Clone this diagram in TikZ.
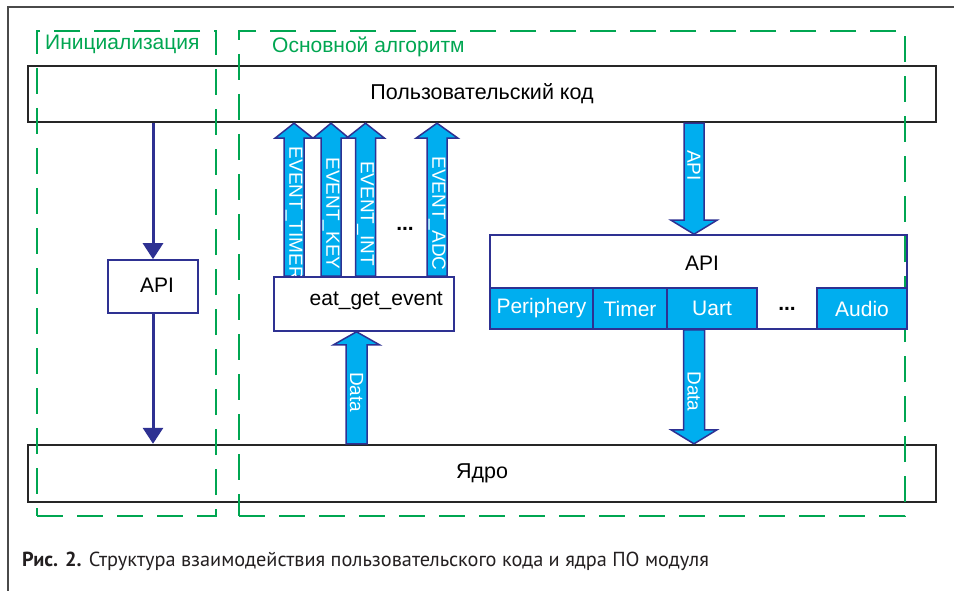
\documentclass[tikz,border=0pt]{standalone}
\usepackage{fontspec}
\setmainfont{Liberation Sans}
\newfontfamily\capfont{PT Sans}
\usetikzlibrary{calc,arrows.meta}

\definecolor{cyanfill}{HTML}{00AEEF}
\definecolor{navy}{HTML}{2E3192}
\definecolor{grn}{HTML}{00A651}
\definecolor{framegray}{HTML}{4A4A4A}
\definecolor{captxt}{HTML}{231F20}

\tikzset{
  framel/.style={draw=framegray, line width=1.3pt},
  boxk/.style={draw=black!85, line width=2.4pt, rectangle, inner sep=0pt,
    font=\fontsize{21.5}{24}\selectfont},
  boxb/.style={draw=navy, line width=1.6pt, rectangle, inner sep=0pt,
    font=\fontsize{21}{24}\selectfont},
  cellbox/.style={draw=navy, fill=cyanfill, line width=1.6pt, rectangle, inner sep=0pt,
    text=white, minimum height=41pt, font=\fontsize{21}{24}\selectfont},
  txt/.style={inner sep=0pt, font=\fontsize{21}{24}\selectfont},
  grp/.style={draw=grn, line width=2.2pt, dash pattern=on 26pt off 14pt, rectangle, inner sep=0pt},
  grplbl/.style={inner sep=0pt, text=grn, font=\fontsize{21}{24}\selectfont},
  thinarr/.style={draw=navy, line width=3pt, -{Triangle[width=20pt,length=16pt]}},
  blkarrow/.style={draw=navy, fill=cyanfill, line width=1.5pt, line join=miter},
  arrlbl/.style={inner sep=0pt, text=white, rotate=-90, font=\fontsize{19}{21}\selectfont},
}

% block arrow: #1 start, #2 tip, #3 shaft half width, #4 head half width,
% #5 head length, #6 label position, #7 label
\newcommand\blockarrow[7]{%
  \draw[blkarrow] let \p1=(#1), \p2=(#2), \n1={sign(\y2-\y1)} in
    (\x1-#3pt,\y1) -- (\x1-#3pt,\y2-\n1*#5pt) -- (\x1-#4pt,\y2-\n1*#5pt)
    -- (\x1,\y2) -- (\x1+#4pt,\y2-\n1*#5pt) -- (\x1+#3pt,\y2-\n1*#5pt)
    -- (\x1+#3pt,\y1) -- cycle;
  \path (#1) -- node[arrlbl, pos=#6] {#7} (#2);
}

\begin{document}
\begin{tikzpicture}[x=1pt, y=-1pt]
\useasboundingbox (0,0) rectangle (954,591);

% page frame
\draw[framel] (8,591) -- (8,7) -- (954,7);

% layers
\node[boxk, minimum width=908pt, minimum height=56pt] (user) at (482,94) {Пользовательский код};
\node[boxk, minimum width=908pt, minimum height=57pt] (core) at (482,473.5) {Ядро};

% columns of the block arrows
\coordinate (cT) at (294,0);
\coordinate (cK) at (331,0);
\coordinate (cI) at (365.5,0);
\coordinate (cA) at (437,0);
\coordinate (cApi) at (694,0);
\coordinate (cD) at (356.5,0);

% initialisation path
\node[boxb, minimum width=90pt, minimum height=53pt] (iapi) at (153,286.5) {};
\node[txt] (iapitxt) at (157,285) {API};
\draw[thinarr] (user.south -| iapi.north) -- (iapi.north);
\draw[thinarr] (iapi.south) -- (core.north -| iapi.south);

% event box and events
\node[boxb, minimum width=180pt, minimum height=54pt] (eat) at (364,304) {};
\blockarrow{eat.north -| cT}{user.south -| cT}{10}{19}{15}{0.41}{EVENT\_TIMER}
\blockarrow{eat.north -| cK}{user.south -| cK}{10}{18}{15}{0.41}{EVENT\_KEY}
\blockarrow{eat.north -| cI}{user.south -| cI}{10}{19}{15}{0.41}{EVENT\_INT}
\blockarrow{eat.north -| cA}{user.south -| cA}{10}{21}{15}{0.41}{EVENT\_ADC}
\node[boxb, fill=white, minimum width=180pt, minimum height=54pt] (eatb) at (364,304) {};
\node[txt, anchor=east] (eattxt) at (443,301) {eat\_get\_event};
\node[txt] (edots) at (405,229) {\textbf{...}};
\blockarrow{core.north -| cD}{eat.south -| cD}{10.5}{23}{13}{0.46}{Data}

% API block
\node[boxb, minimum width=417pt, minimum height=94pt] (api) at (698.5,282) {};
\node[txt] (apitxt) at (702,263) {API};
\blockarrow{user.south -| cApi}{api.north -| cApi}{10}{23}{14}{0.38}{API}

% groups
\node[grp, minimum width=179pt, minimum height=485pt] (init) at (126.5,273.5) {};
\node[grp, minimum width=666pt, minimum height=485pt] (main) at (572,273.5) {};
\node[grplbl, anchor=west] (initlbl) at (45,44) {Инициализация};
\node[grplbl, anchor=west] (mainlbl) at (272,47) {Основной алгоритм};

% API cells
\node[cellbox, minimum width=103pt] (per) at (541.5,308.5) {Periphery};
\node[cellbox, minimum width=74pt] (tim) at (630,308.5) {Timer};
\node[cellbox, minimum width=90pt] (uart) at (712,308.5) {Uart};
\node[txt] (cdots) at (787,309) {\textbf{...}};
\node[cellbox, minimum width=90pt] (aud) at (862,308.5) {Audio};
\blockarrow{uart.south -| cApi}{core.north -| cApi}{10.5}{23}{14}{0.54}{Data}

% caption
\node[anchor=west, inner sep=0pt, text=captxt, font=\capfont\fontsize{20.3}{23}\selectfont]
  (cap) at (22,561) {\textbf{Рис. 2.} Структура взаимодействия пользовательского кода и ядра ПО модуля};
\end{tikzpicture}
\end{document}
